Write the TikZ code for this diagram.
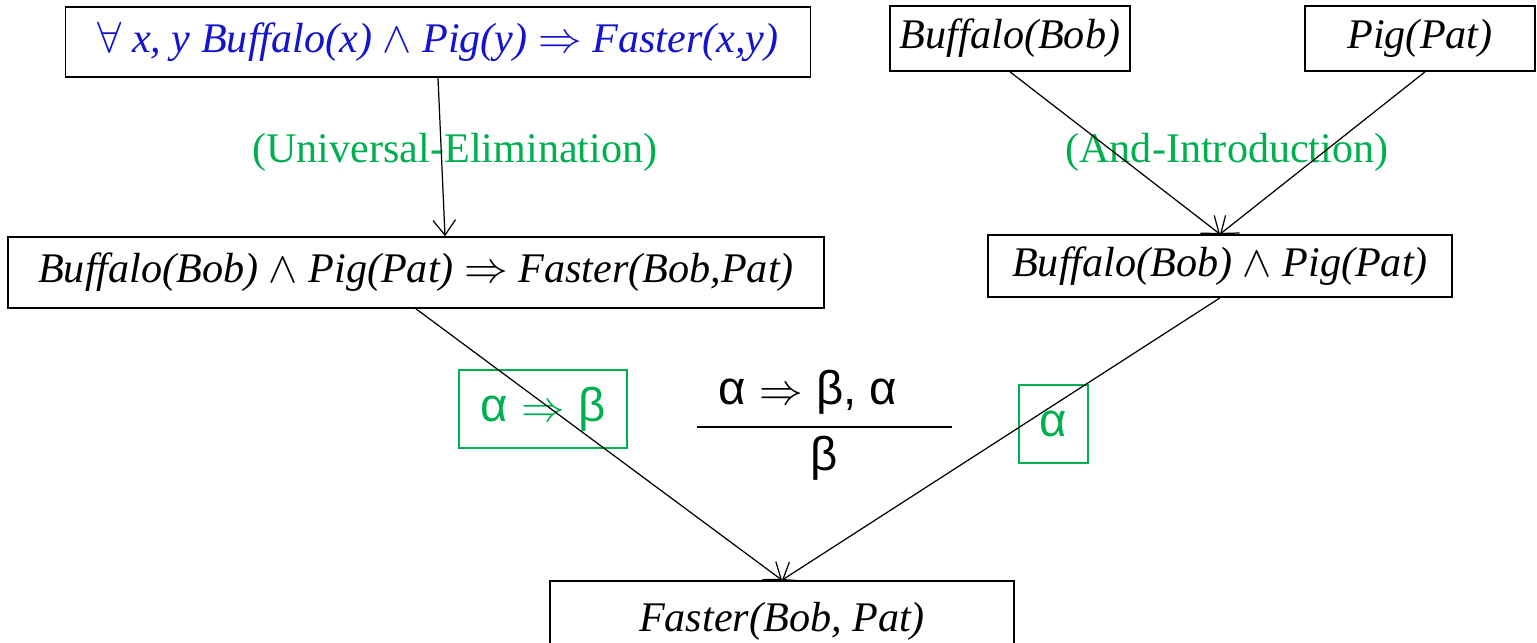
\documentclass[tikz,border=0pt]{standalone}
\usepackage{fontspec}
\setmainfont{Liberation Serif}
\setsansfont{Liberation Sans}
\usetikzlibrary{
    arrows.meta,
    positioning
}
\definecolor{ruleblue}{RGB}{20,20,205}
\definecolor{rulegreen}{RGB}{0,175,80}
\tikzset{
    stmt/.style={draw, line width=1pt, inner sep=0pt,
        font=\fontsize{24}{26}\selectfont\itshape},
    infer/.style={-{Straight Barb[length=3mm,width=4.5mm]}, line width=0.7pt},
    rulename/.style={text=rulegreen, font=\fontsize{24}{26}\selectfont},
    premise/.style={draw=rulegreen, text=rulegreen, line width=0.8pt, inner sep=0pt,
        minimum height=1.56cm, font=\fontsize{27}{29}\selectfont\sffamily},
    schema/.style={font=\fontsize{27}{29}\selectfont\sffamily}
}

\begin{document}
\begin{tikzpicture}[x=0.02cm, y=-0.02cm]
    \useasboundingbox (0,0) rectangle (1537,642);
    % statements
    \node[stmt, text=ruleblue, minimum width=14.9cm, minimum height=1.4cm] (ueq) at (438,42)
        {$\forall$ x, y Buffalo(x) $\wedge$ Pig(y) $\Rightarrow$ Faster(x,y)};
    \node[stmt, minimum width=4.8cm, minimum height=1.3cm] (bb) at (1010,38.5) {Buffalo(Bob)};
    \node[stmt, minimum width=4.6cm, minimum height=1.3cm] (pp) at (1420,38.5) {Pig(Pat)};
    \node[stmt, minimum width=16.32cm, minimum height=1.42cm] (inst) at (416,272.5)
        {Buffalo(Bob) $\wedge$ Pig(Pat) $\Rightarrow$ Faster(Bob,Pat)};
    \node[stmt, minimum width=9.28cm, minimum height=1.24cm] (conj) at (1220,266)
        {Buffalo(Bob) $\wedge$ Pig(Pat)};
    \node[stmt, minimum width=9.28cm, minimum height=1.6cm] (goal) at (782,621)
        {Faster(Bob, Pat)};
    % rule names
    \node[rulename] (ui) at (455,152) {(Universal-Elimination)};
    \node[rulename] (ai) at (1227,152) {(And-Introduction)};
    % modus ponens
    \node[premise, minimum width=3.36cm] (imp) at (543,409) {α $\Rightarrow$ β};
    \node[premise, minimum width=1.38cm] (alpha) at (1053.5,424) {α};
    \node[schema] (top) at (808,392) {α $\Rightarrow$ β, α};
    \node[schema] (bot) at (824,458) {β};
    \draw[line width=1pt] (697,427) -- (952,427);
    % inference steps
    \draw[infer] (ueq.south) -- ([xshift=0.58cm]inst.north);
    \draw[infer] (bb.south) -- (conj.north);
    \draw[infer] ([xshift=0.1cm]pp.south) -- (conj.north);
    \draw[infer] (inst.south) -- (goal.north);
    \draw[infer] (conj.south) -- (goal.north);
\end{tikzpicture}
\end{document}
